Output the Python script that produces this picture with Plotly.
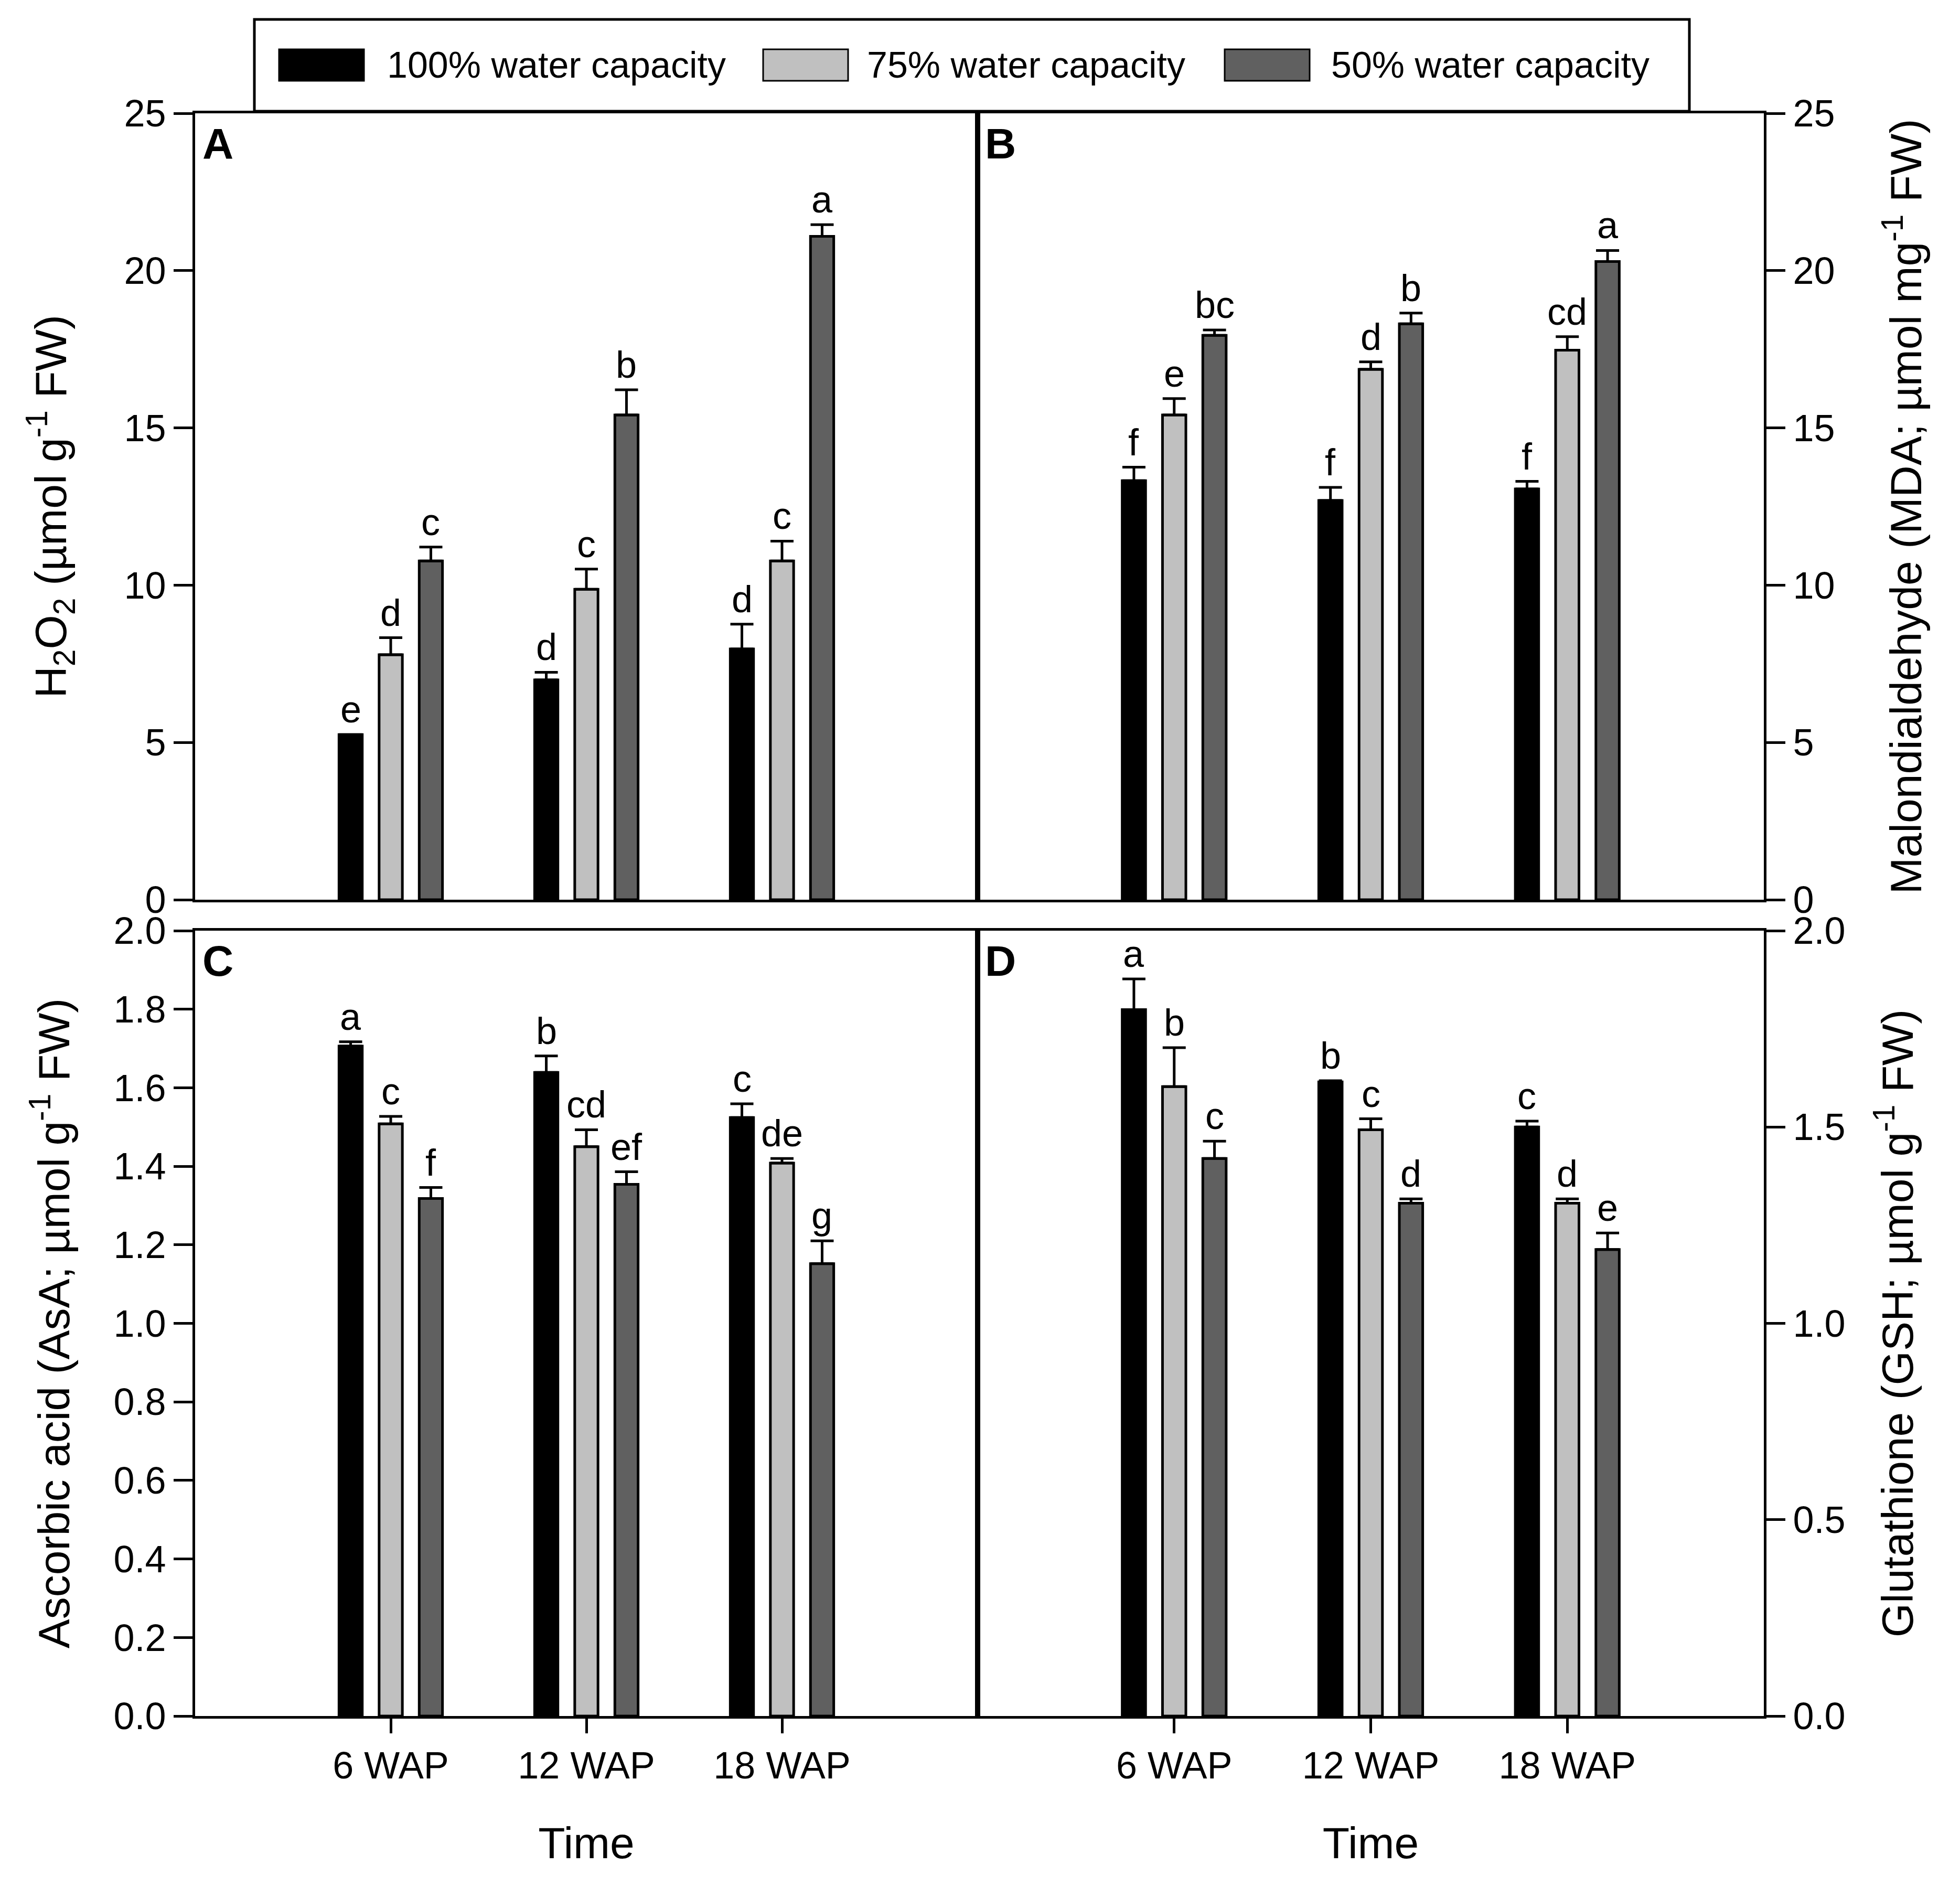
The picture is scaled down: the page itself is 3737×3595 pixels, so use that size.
import plotly.graph_objects as go

# ---------------- data ----------------
categories = ["6 WAP", "12 WAP", "18 WAP"]
series_names = ["100% water capacity", "75% water capacity", "50% water capacity"]

# Panel A: H2O2
h2o2_100 = [5.25, 6.99, 7.97]
h2o2_75 = [7.79, 9.87, 10.77]
h2o2_50 = [10.77, 15.41, 21.09]
h2o2_100_err = [0.0, 0.24, 0.79]
h2o2_75_err = [0.54, 0.64, 0.63]
h2o2_50_err = [0.44, 0.80, 0.37]
h2o2_100_let = ["e", "d", "d"]
h2o2_75_let = ["d", "c", "c"]
h2o2_50_let = ["c", "b", "a"]

# Panel B: MDA
mda_100 = [13.32, 12.69, 13.06]
mda_75 = [15.41, 16.86, 17.47]
mda_50 = [17.94, 18.31, 20.29]
mda_100_err = [0.43, 0.42, 0.24]
mda_75_err = [0.52, 0.24, 0.43]
mda_50_err = [0.17, 0.34, 0.35]
mda_100_let = ["f", "f", "f"]
mda_75_let = ["e", "d", "cd"]
mda_50_let = ["bc", "b", "a"]

# Panel C: AsA
asa_100 = [1.706, 1.639, 1.524]
asa_75 = [1.508, 1.450, 1.408]
asa_50 = [1.318, 1.354, 1.152]
asa_100_err = [0.011, 0.042, 0.035]
asa_75_err = [0.019, 0.043, 0.012]
asa_50_err = [0.028, 0.032, 0.058]
asa_100_let = ["a", "b", "c"]
asa_75_let = ["c", "cd", "de"]
asa_50_let = ["f", "ef", "g"]

# Panel D: GSH
gsh_100 = [1.799, 1.615, 1.500]
gsh_75 = [1.603, 1.493, 1.306]
gsh_50 = [1.420, 1.306, 1.188]
gsh_100_err = [0.078, 0.003, 0.015]
gsh_75_err = [0.099, 0.028, 0.011]
gsh_50_err = [0.044, 0.011, 0.042]
gsh_100_let = ["a", "b", "c"]
gsh_75_let = ["b", "c", "d"]
gsh_50_let = ["c", "d", "e"]

# ---------------- style ----------------
FONT = "Liberation Sans, Arial, sans-serif"
COLORS = ["#000000", "#c0c0c0", "#606060"]
W, H = 3737, 3595
SH = 8  # compensates the page's default body margin
ML, MR, MT, MB = 372 - SH, 374 + SH, 216 - SH, 324 + SH
PW, PH = W - ML - MR, H - MT - MB
LW = 5
TICK_FONT = 72
TITLE_FONT = 84
LETTER_FONT = 72
BARGAP = 0.385


def px_x(x):
    return (x - SH - ML) / PW


def px_y(y):
    return (H - MB - (y - SH)) / PH


panels = [
    dict(suffix="", label="A",
         vals=[h2o2_100, h2o2_75, h2o2_50],
         errs=[h2o2_100_err, h2o2_75_err, h2o2_50_err],
         lets=[h2o2_100_let, h2o2_75_let, h2o2_50_let]),
    dict(suffix="2", label="B",
         vals=[mda_100, mda_75, mda_50],
         errs=[mda_100_err, mda_75_err, mda_50_err],
         lets=[mda_100_let, mda_75_let, mda_50_let]),
    dict(suffix="3", label="C",
         vals=[asa_100, asa_75, asa_50],
         errs=[asa_100_err, asa_75_err, asa_50_err],
         lets=[asa_100_let, asa_75_let, asa_50_let]),
    dict(suffix="4", label="D",
         vals=[gsh_100, gsh_75, gsh_50],
         errs=[gsh_100_err, gsh_75_err, gsh_50_err],
         lets=[gsh_100_let, gsh_75_let, gsh_50_let]),
]

fig = go.Figure()
annotations = []
slot = (1 - BARGAP) / 3
offsets = [-slot, 0.0, slot]

for p in panels:
    s = p["suffix"]
    for j in range(3):
        fig.add_trace(go.Bar(
            x=categories, y=p["vals"][j], name=series_names[j],
            xaxis="x" + s, yaxis="y" + s, showlegend=False,
            marker=dict(color=COLORS[j], line=dict(color="black", width=LW)),
            error_y=dict(type="data", array=p["errs"][j], arrayminus=[0] * 3,
                         symmetric=False, color="black", thickness=LW, width=22),
        ))
        for k in range(3):
            annotations.append(dict(
                x=k + offsets[j], y=p["vals"][j][k] + p["errs"][j][k],
                xref="x" + s, yref="y" + s, text=p["lets"][j][k],
                showarrow=False, yanchor="bottom", xanchor="center", yshift=6,
                font=dict(family=FONT, size=LETTER_FONT, color="black")))
    annotations.append(dict(
        x=0, y=1, xref=f"x{s} domain", yref=f"y{s} domain",
        text=f"<b>{p['label']}</b>", showarrow=False, xanchor="left", yanchor="top",
        xshift=12, yshift=-10, font=dict(family=FONT, size=82, color="black")))

# legend drawn manually
shapes = [dict(type="rect", xref="paper", yref="paper",
               x0=px_x(485), x1=px_x(3221), y0=px_y(212), y1=px_y(37),
               line=dict(color="black", width=LW), fillcolor="white", layer="above")]
sw_x = [532, 1455, 2335]
txt_x = [736, 1651, 2536]
for j in range(3):
    shapes.append(dict(type="rect", xref="paper", yref="paper",
                       x0=px_x(sw_x[j]), x1=px_x(sw_x[j] + 162), y0=px_y(154), y1=px_y(94),
                       line=dict(color="black", width=3), fillcolor=COLORS[j], layer="above"))
    annotations.append(dict(x=px_x(txt_x[j]), y=px_y(124), xref="paper", yref="paper",
                            text=series_names[j], showarrow=False, xanchor="left",
                            yanchor="middle",
                            font=dict(family=FONT, size=70, color="black")))

x_left = [0, px_x(1864)]
x_right = [px_x(1864), 1]
y_top = [px_y(1715), 1]
y_bot = [0, px_y(1774)]

tickfont = dict(family=FONT, size=TICK_FONT, color="black")
titlefont = dict(family=FONT, size=TITLE_FONT, color="black")


def xax(domain, anchor, labels):
    d = dict(domain=domain, anchor=anchor, type="category", range=[-1, 3],
             showline=True, linecolor="black", linewidth=LW, mirror=True,
             showgrid=False, zeroline=False, tickfont=tickfont)
    if labels:
        d.update(ticks="outside", ticklen=28, tickwidth=LW, tickcolor="black",
                 showticklabels=True,
                 title=dict(text="Time", font=titlefont, standoff=80))
    else:
        d.update(ticks="", showticklabels=False)
    return d


def yax(domain, anchor, rng, dtick, fmt, side, title, standoff):
    return dict(domain=domain, anchor=anchor, range=rng, dtick=dtick, tick0=0,
                tickformat=fmt, side=side, showline=True, linecolor="black",
                linewidth=LW, mirror=True, ticks="outside", ticklen=36,
                tickwidth=LW, tickcolor="black", showgrid=False, zeroline=False,
                tickfont=tickfont,
                title=dict(text=title, font=titlefont, standoff=standoff))


fig.update_layout(
    width=W, height=H,
    margin=dict(l=ML, r=MR, t=MT, b=MB, autoexpand=False),
    paper_bgcolor="white", plot_bgcolor="white",
    barmode="group", bargap=BARGAP, bargroupgap=0.42,
    font=dict(family=FONT, color="black"),
    xaxis=xax(x_left, "y", False),
    xaxis2=xax(x_right, "y2", False),
    xaxis3=xax(x_left, "y3", True),
    xaxis4=xax(x_right, "y4", True),
    yaxis=yax(y_top, "x", [0, 25], 5, "d", "left",
              "H<sub>2</sub>O<sub>2</sub> (µmol g<sup>-1</sup> FW)", 84),
    yaxis2=yax(y_top, "x2", [0, 25], 5, "d", "right",
               "Malondialdehyde (MDA; µmol mg<sup>-1</sup> FW)", 108),
    yaxis3=yax(y_bot, "x3", [0, 2], 0.2, ".1f", "left",
               "Ascorbic acid (AsA; µmol g<sup>-1</sup> FW)", 58),
    yaxis4=yax(y_bot, "x4", [0, 2], 0.5, ".1f", "right",
               "Glutathione (GSH; µmol g<sup>-1</sup> FW)", 72),
    annotations=annotations,
    shapes=shapes,
)

fig.write_html("out.html")
